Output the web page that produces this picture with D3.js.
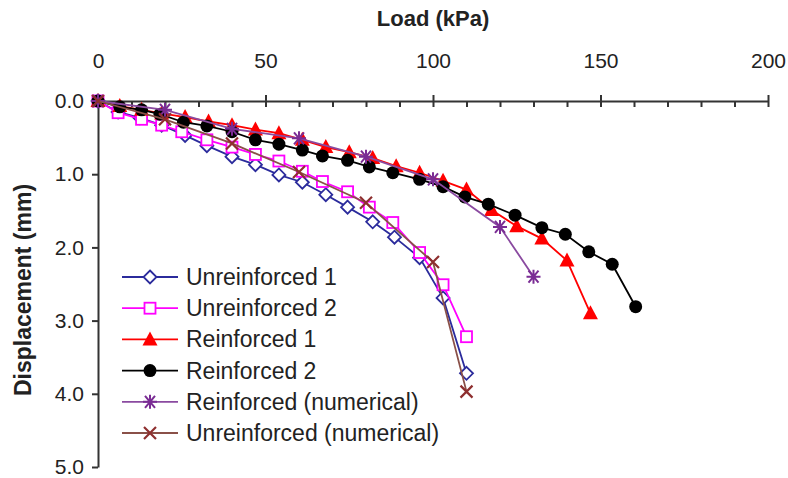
<!DOCTYPE html>
<html>
<head>
<meta charset="utf-8">
<script src="https://cdn.jsdelivr.net/npm/d3@7"></script>
<style>
  body { margin: 0; background: #fff; }
  svg { display: block; font-family: "Liberation Sans", Arial, sans-serif; }
</style>
</head>
<body>
<div id="chart"></div>
<script>
// load (kPa) and displacement (mm)
const loadU1 = [0, 6, 12.5, 19, 26, 32.5, 40, 47, 54, 61, 68, 74.5, 82, 88.5, 96, 103, 110];
const dispU1 = [0, 0.15, 0.23, 0.33, 0.47, 0.61, 0.76, 0.87, 1.01, 1.11, 1.28, 1.45, 1.65, 1.86, 2.14, 2.69, 3.72];

const loadU2 = [0, 6, 13, 19, 25, 32.5, 40, 47, 54, 61, 67, 74.5, 81, 88, 96, 103, 110];
const dispU2 = [0, 0.16, 0.25, 0.33, 0.42, 0.53, 0.63, 0.73, 0.82, 0.96, 1.10, 1.24, 1.45, 1.66, 2.07, 2.51, 3.22];

const loadR1 = [0, 6.5, 13, 19, 26, 33, 40, 47, 54, 61, 68, 75, 82, 89, 96, 103, 110, 117.5, 125, 132.5, 140, 147];
const dispR1 = [0, 0.07, 0.12, 0.17, 0.22, 0.28, 0.33, 0.39, 0.44, 0.53, 0.63, 0.70, 0.78, 0.89, 0.98, 1.09, 1.21, 1.49, 1.71, 1.88, 2.18, 2.90];

const loadR2 = [0, 6.5, 13, 18.5, 25.5, 32.5, 40, 47, 54, 61, 67, 74.5, 81, 88, 96, 103, 109.5, 116.5, 124.5, 132.5, 139.5, 146.5, 153.5, 160.5];
const dispR2 = [0, 0.08, 0.12, 0.18, 0.29, 0.34, 0.42, 0.53, 0.59, 0.67, 0.75, 0.81, 0.90, 0.98, 1.07, 1.17, 1.31, 1.41, 1.56, 1.73, 1.82, 2.06, 2.23, 2.81];

const loadRN = [0, 20, 40, 60, 80, 100, 120, 130];
const dispRN = [0, 0.12, 0.38, 0.51, 0.76, 1.07, 1.72, 2.40];

const loadUN = [0, 20, 40, 60, 80, 100, 110];
const dispUN = [0, 0.25, 0.58, 0.97, 1.39, 2.20, 3.97];

const seriesNames = ['Unreinforced 1', 'Unreinforced 2', 'Reinforced 1', 'Reinforced 2',
                     'Reinforced (numerical)', 'Unreinforced (numerical)'];
const xTicks = [0, 50, 100, 150, 200];
const yTicks = [0, 1, 2, 3, 4, 5];

// marker + colour for each series
const styles = [
    { color: '#2b2b9c', marker: 'diamond' },
    { color: '#ff00ff', marker: 'square' },
    { color: '#ff0000', marker: 'triangle' },
    { color: '#000000', marker: 'circle' },
    { color: '#7a2c94', marker: 'asterisk', line: '#8a4aa0' },
    { color: '#8e2f2f', marker: 'cross', line: '#8a5048' }
];

const series = [
    [loadU1, dispU1], [loadU2, dispU2], [loadR1, dispR1],
    [loadR2, dispR2], [loadRN, dispRN], [loadUN, dispUN]
].map((s, i) => ({
    name: seriesNames[i],
    style: styles[i],
    values: s[0].map((l, j) => ({ load: l, disp: s[1][j] }))
}));

const width = 788, height = 478;
const svg = d3.select('#chart').append('svg')
    .attr('width', width)
    .attr('height', height);

const x = d3.scaleLinear().domain([0, 200]).range([98, 768]);
const y = d3.scaleLinear().domain([0, 5]).range([101, 467]);

// top axis: major ticks crossing, minor ticks inward
const axisColor = '#333';
svg.append('g')
    .attr('transform', `translate(0, ${y(0)})`)
    .call(d3.axisBottom(x).tickValues(d3.range(0, 201, 10)).tickSize(6).tickSizeOuter(0).tickFormat(''))
    .call(g => g.select('.domain').remove());
svg.append('g')
    .attr('transform', `translate(0, ${y(0)})`)
    .call(d3.axisTop(x).tickValues(xTicks).tickSize(6).tickSizeOuter(0).tickPadding(27))
    .call(g => g.selectAll('text').attr('font-size', 21).attr('fill', '#222'));

// left axis
svg.append('g')
    .attr('transform', `translate(${x(0)}, 0)`)
    .call(d3.axisLeft(y).tickValues(yTicks).tickFormat(d3.format('.1f')).tickSize(6).tickSizeOuter(0).tickPadding(8))
    .call(g => g.selectAll('text').attr('font-size', 21).attr('fill', '#222'));

svg.selectAll('.domain, .tick line').attr('stroke', axisColor).attr('stroke-width', 2);

// axis titles
svg.append('text')
    .attr('x', (x(0) + x(200)) / 2)
    .attr('y', 26)
    .attr('text-anchor', 'middle')
    .attr('font-size', 22)
    .attr('font-weight', 'bold')
    .attr('fill', '#222')
    .text('Load (kPa)');
svg.append('text')
    .attr('transform', `translate(31, ${(y(0) + y(5)) / 2 + 6}) rotate(-90)`)
    .attr('text-anchor', 'middle')
    .attr('font-size', 23)
    .attr('font-weight', 'bold')
    .attr('fill', '#222')
    .text('Displacement (mm)');

// marker shapes
function drawMarker(sel, style) {
    const c = style.color;
    switch (style.marker) {
        case 'diamond':
            sel.append('path').attr('d', 'M0,-6.5L6.5,0L0,6.5L-6.5,0Z')
                .attr('fill', '#fff').attr('stroke', c).attr('stroke-width', 1.8);
            break;
        case 'square':
            sel.append('rect').attr('x', -5.5).attr('y', -5.5).attr('width', 11).attr('height', 11)
                .attr('fill', '#fff').attr('stroke', c).attr('stroke-width', 1.8);
            break;
        case 'triangle':
            sel.append('path').attr('d', 'M0,-8L7.5,6L-7.5,6Z').attr('fill', c);
            break;
        case 'circle':
            sel.append('circle').attr('r', 6.5).attr('fill', c);
            break;
        case 'asterisk':
            sel.append('path')
                .attr('d', 'M-7,0L7,0M-5,-6L5,6M-5,6L5,-6M0,-7L0,7')
                .attr('stroke', c).attr('stroke-width', 2).attr('fill', 'none');
            break;
        case 'cross':
            sel.append('path')
                .attr('d', 'M-6,-6L6,6M-6,6L6,-6')
                .attr('stroke', c).attr('stroke-width', 2.2).attr('fill', 'none');
            break;
    }
}

const line = d3.line()
    .x(d => x(d.load))
    .y(d => y(d.disp));

const plot = svg.append('g');
series.forEach(s => {
    const g = plot.append('g');
    g.append('path')
        .attr('d', line(s.values))
        .attr('fill', 'none')
        .attr('stroke', s.style.line || s.style.color)
        .attr('stroke-width', 1.8);
    g.selectAll('g.pt')
        .data(s.values)
        .join('g')
        .attr('class', 'pt')
        .attr('transform', d => `translate(${x(d.load)}, ${y(d.disp)})`)
        .each(function () { drawMarker(d3.select(this), s.style); });
});

// legend
const legend = svg.append('g').attr('transform', 'translate(122, 277)');
series.forEach((s, i) => {
    const row = legend.append('g').attr('transform', `translate(0, ${i * 31.2})`);
    row.append('line')
        .attr('x1', 0).attr('x2', 56)
        .attr('stroke', s.style.line || s.style.color)
        .attr('stroke-width', 1.8);
    const m = row.append('g').attr('transform', 'translate(28, 0)');
    drawMarker(m, s.style);
    row.append('text')
        .attr('x', 64)
        .attr('y', 8)
        .attr('font-size', 23)
        .attr('fill', '#222')
        .text(s.name);
});
</script>
</body>
</html>
